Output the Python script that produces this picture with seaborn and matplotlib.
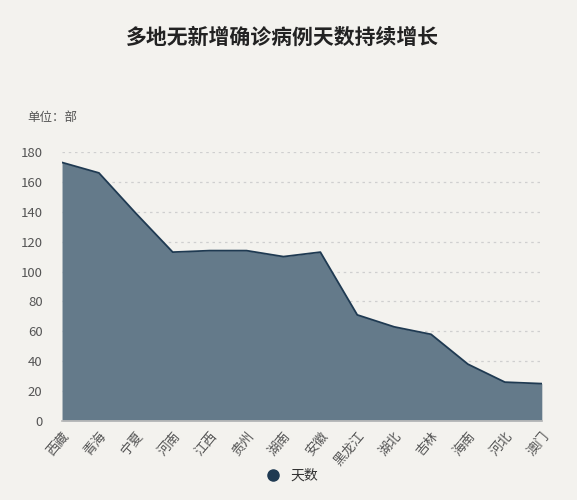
import matplotlib
matplotlib.use("Agg")
import matplotlib.pyplot as plt
from matplotlib.lines import Line2D
import pandas as pd
import seaborn as sns

BG = "#f3f2ee"
FILL = "#647a8a"
LINE = "#1f3a52"
TEXT = "#555555"
GRID = "#cfcfcf"

provinces = ["西藏", "青海", "宁夏", "河南", "江西", "贵州", "湖南",
             "安徽", "黑龙江", "湖北", "吉林", "海南", "河北", "澳门"]
days = [173, 166, 139, 113, 114, 114, 110, 113, 71, 63, 58, 38, 26, 25]

TITLE = "多地无新增确诊病例天数持续增长"
UNIT = "单位：部"
SERIES = "天数"

df = pd.DataFrame({"province": provinces, "days": days})
df["pos"] = range(len(df))

sns.set_theme(style="white")
plt.rcParams["font.family"] = ["Noto Sans CJK SC", "DejaVu Sans"]

fig = plt.figure(figsize=(5.77, 5.0), dpi=100)
fig.patch.set_facecolor(BG)
ax = fig.add_axes([0.1075, 0.158, 0.8315, 0.538])
ax.set_facecolor(BG)

ax.fill_between(df["pos"], 0, df["days"], color=FILL, linewidth=0, zorder=2)
sns.lineplot(data=df, x="pos", y="days", ax=ax, color=LINE, linewidth=1.3, zorder=3)

ax.set_xlim(0, len(df) - 1)
ax.set_ylim(0, 180)
ax.set_yticks(range(0, 181, 20))
ax.set_xticks(df["pos"])
ax.set_xticklabels(df["province"], rotation=50, ha="right", rotation_mode="anchor")
ax.tick_params(axis="x", colors=TEXT, labelsize=9.5, length=4, color="#bbbbbb", pad=2)
ax.tick_params(axis="y", colors=TEXT, labelsize=9.5, length=0, pad=14)
ax.yaxis.grid(True, color=GRID, linestyle=(0, (2, 3)), linewidth=0.9, zorder=1)
ax.set_axisbelow(True)
ax.set_xlabel("")
ax.set_ylabel("")
for side in ["top", "right", "left"]:
    ax.spines[side].set_visible(False)
ax.spines["bottom"].set_color("#bbbbbb")
ax.spines["bottom"].set_zorder(4)

fig.text(0.49, 0.926, TITLE, ha="center", va="center", fontsize=15,
         fontweight="bold", color="#222222")
fig.text(0.047, 0.766, UNIT, ha="left", va="center", fontsize=9, color=TEXT)

handle = Line2D([], [], marker="o", linestyle="none", markersize=8,
                markerfacecolor=LINE, markeredgecolor=LINE)
fig.legend([handle], [SERIES], loc="center", bbox_to_anchor=(0.5, 0.048),
           frameon=False, fontsize=10, handletextpad=0.3, labelcolor="#333333")

fig.savefig("out.png", dpi=100, facecolor=BG)
